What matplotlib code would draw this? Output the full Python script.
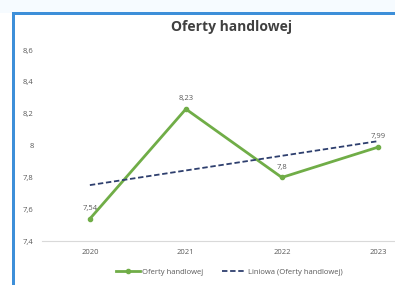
import matplotlib.pyplot as plt
import numpy as np
from matplotlib.patches import Rectangle

years = ["2020", "2021", "2022", "2023"]
values = [7.54, 8.23, 7.80, 7.99]
value_labels = ["7,54", "8,23", "7,8", "7,99"]
yticks = [7.4, 7.6, 7.8, 8.0, 8.2, 8.4, 8.6]
ytick_labels = ["7,4", "7,6", "7,8", "8", "8,2", "8,4", "8,6"]

plt.rcParams['font.family'] = ['Open Sans', 'DejaVu Sans']

fig = plt.figure(figsize=(3.95, 2.85), dpi=100)
fig.patch.set_facecolor("white")

# blue frame (left and top edges of the cropped chart)
fig.patches.append(Rectangle((0, 0.955), 1, 0.045, transform=fig.transFigure,
                             facecolor="#f6fbff", edgecolor="none", zorder=0))
fig.patches.append(Rectangle((0.030, 0.948), 0.97, 0.011, transform=fig.transFigure,
                             facecolor="#3d8fd9", edgecolor="none", zorder=1))
fig.patches.append(Rectangle((0.030, 0), 0.009, 0.959, transform=fig.transFigure,
                             facecolor="#3d8fd9", edgecolor="none", zorder=1))

ax = fig.add_axes([0.106, 0.154, 0.972, 0.670])
x = np.arange(len(years))

ax.plot(x, values, color="#70ad47", lw=2, marker="o", markersize=3,
        label="Oferty handlowej", zorder=3)

slope, intercept = np.polyfit(x + 1, values, 1)
ax.plot(x, slope * (x + 1) + intercept, color="#2e3f6e", lw=1.3,
        ls=(0, (3, 1.5)), label="Liniowa (Oferty handlowej)", zorder=4)

for xi, v, lab in zip(x, values, value_labels):
    ax.annotate(lab, (xi, v), xytext=(0, 5), textcoords="offset points",
                ha="center", va="bottom", fontsize=5.5, color="#595959")

ax.set_xlim(-0.5, 3.5)
ax.set_ylim(7.4, 8.6)
ax.set_xticks(x)
ax.set_xticklabels(years)
ax.set_yticks(yticks)
ax.set_yticklabels(ytick_labels)
ax.tick_params(length=0, labelsize=5.5, labelcolor="#595959", pad=6)
for s in ["top", "right", "left"]:
    ax.spines[s].set_visible(False)
ax.spines["bottom"].set_color("#d9d9d9")
ax.set_facecolor("none")

fig.text(0.585, 0.905, "Oferty handlowej", ha="center", va="center",
         fontsize=10, fontweight="bold", color="#404040")

fig.legend(loc="center", bbox_to_anchor=(0.58, 0.045), ncol=2, frameon=False,
           fontsize=5.5, labelcolor="#595959", handlelength=3.2, columnspacing=2.5,
           handletextpad=0.2)

fig.savefig("out.png", dpi=100)
